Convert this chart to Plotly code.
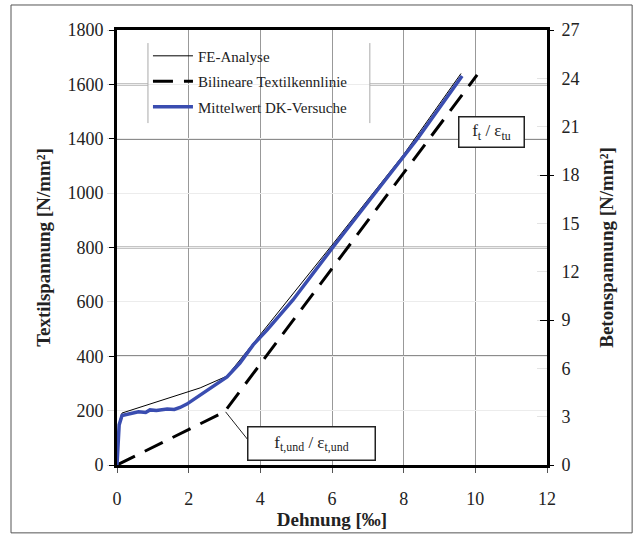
import plotly.graph_objects as go

# ---- data ----
strain_fe = [0, 0.08, 0.14, 2.32, 3.07, 4.0, 6.0, 8.0, 9.6]
stress_fe = [0, 186, 215, 319, 368, 540, 910, 1285, 1620]

strain_bil = [0, 3.0, 10.05]
stress_bil = [0, 220, 1614]

strain_dk = [0, 0.03, 0.06, 0.14, 0.30, 0.45, 0.60, 0.80, 0.92, 1.10, 1.30, 1.40,
             1.60, 1.76, 1.95, 2.32, 2.68, 3.07, 3.43, 3.80, 4.19, 4.55, 4.91,
             6.03, 8.40, 9.63]
stress_dk = [0, 103, 166, 205, 210, 215, 220, 217, 228, 226, 230, 232,
             230, 238, 252, 290, 323, 364, 422, 497, 559, 621, 683,
             902, 1353, 1610]

names = ["FE-Analyse", "Bilineare Textilkennlinie", "Mittelwert DK-Versuche"]

left_tickvals = [0, 225, 450, 675, 900, 1125, 1350, 1575, 1800]
left_ticktext = ["0", "200", "400", "600", "800", "1000", "1400", "1600", "1800"]
left_dark = [450, 900, 1350, 1575]
right_ticks = [0, 3, 6, 9, 12, 15, 18, 21, 24, 27]
right_major = [0, 9, 18, 27]
x_ticks = [0, 2, 4, 6, 8, 10, 12]

FONT = "Liberation Serif"

fig = go.Figure()
fig.add_trace(go.Scatter(x=strain_fe, y=stress_fe, mode="lines", name=names[0],
                         line=dict(color="black", width=1), legendgroup="a"))
fig.add_trace(go.Scatter(x=strain_bil, y=stress_bil, mode="lines", name=names[1],
                         line=dict(color="black", width=3, dash="20px,11px"), legendgroup="b"))
fig.add_trace(go.Scatter(x=strain_dk, y=stress_dk, mode="lines", name=names[2],
                         line=dict(color="#3a4db0", width=3.5), legendgroup="c"))
# empty traces binding the helper axes
for ax in ["y2", "y3", "y4", "y5"]:
    fig.add_trace(go.Scatter(x=[None], y=[None], yaxis=ax, showlegend=False,
                             hoverinfo="skip", mode="lines"))

tickfont = dict(family=FONT, size=18, color="#222")
titlefont = dict(family=FONT, size=19, color="#222", weight="bold")

fig.update_layout(
    width=637, height=539, autosize=False,
    margin=dict(l=117, r=90, t=30, b=74),
    paper_bgcolor="white", plot_bgcolor="white",
    showlegend=True,
    legend=dict(x=0.072, y=0.978, xanchor="left", yanchor="top",
                font=dict(family=FONT, size=15, color="#222"),
                bgcolor="rgba(255,255,255,0)", borderwidth=0, tracegroupgap=3,
                itemwidth=40, traceorder="grouped"),
    xaxis=dict(range=[0, 12], tickvals=x_ticks, showgrid=True, gridcolor="#999999",
               gridwidth=1, zeroline=False, showline=True, linecolor="black",
               linewidth=3, mirror=True, ticks="outside", ticklen=5, tickcolor="#555",
               tickfont=tickfont, ticklabelstandoff=10,
               title=dict(text="Dehnung [‰]", font=titlefont, standoff=4)),
    yaxis=dict(range=[0, 1800], tickvals=left_tickvals, ticktext=left_ticktext,
               showgrid=True, gridcolor="#ececec", zeroline=False, showline=True,
               linecolor="black", linewidth=3, ticks="outside", ticklen=7,
               tickcolor="#dddddd", tickfont=tickfont,
               title=dict(text="Textilspannung [N/mm²]", font=titlefont, standoff=12)),
    yaxis5=dict(range=[0, 1800], overlaying="y", side="left", tickvals=left_dark + [0, 1800],
                showticklabels=False, showgrid=False, zeroline=False,
                ticks="outside", ticklen=7, tickcolor="black", showline=False),
    yaxis2=dict(range=[0, 27], overlaying="y", side="right", tickvals=right_ticks,
                showgrid=False, zeroline=False, showline=True, linecolor="black",
                linewidth=3, ticks="inside", ticklen=10, tickcolor="#e4e4e4",
                tickfont=tickfont, ticklabelstandoff=8,
                title=dict(text="Betonspannung [N/mm²]", font=titlefont, standoff=22)),
    yaxis3=dict(range=[0, 27], overlaying="y", side="right", tickvals=right_major,
                showticklabels=False, showgrid=False, zeroline=False, showline=False,
                ticks="outside", ticklen=6, tickcolor="black"),
    yaxis4=dict(range=[0, 27], overlaying="y", side="right", tickvals=right_major,
                showticklabels=False, showgrid=False, zeroline=False, showline=False,
                ticks="inside", ticklen=7, tickcolor="black"),
)

# dark horizontal grid lines
for v in left_dark:
    fig.add_shape(type="line", xref="paper", yref="y", x0=0, x1=1, y0=v, y1=v,
                  line=dict(color="#1a1a1a", width=1.5), layer="below")

# legend box (white background with side borders)
fig.add_shape(type="rect", xref="paper", yref="paper", x0=0.072, x1=0.588, y0=0.786, y1=0.970,
              line=dict(width=0), fillcolor="white", layer="below")
for xp in [0.072, 0.588]:
    fig.add_shape(type="line", xref="paper", yref="paper", x0=xp, x1=xp, y0=0.786, y1=0.970,
                  line=dict(color="#aaaaaa", width=1))

# outer frame
fig.add_shape(type="rect", xref="paper", yref="paper", x0=-0.2465, x1=1.198,
              y0=-0.156, y1=1.0575, line=dict(color="#555", width=1))

# annotations
ann_font = dict(family=FONT, size=17, color="#222")
fig.add_annotation(x=10.44, y=1376, xref="x", yref="y",
                   text="f<sub>t</sub> / ε<sub>tu</sub>", showarrow=False,
                   font=ann_font, bgcolor="white", bordercolor="#222", borderwidth=1.5,
                   width=60, height=25, borderpad=2)
fig.add_shape(type="line", xref="x", yref="y", x0=strain_bil[1] + 0.03, y0=stress_bil[1],
              x1=3.66, y1=103, line=dict(color="#222", width=1))
fig.add_annotation(x=5.44, y=87, xref="x", yref="y",
                   text="f<sub>t,und</sub> / ε<sub>t,und</sub>", showarrow=False,
                   font=ann_font, bgcolor="white", bordercolor="#222", borderwidth=1.5,
                   width=122, height=28, borderpad=2)

fig.write_html("out.html")
